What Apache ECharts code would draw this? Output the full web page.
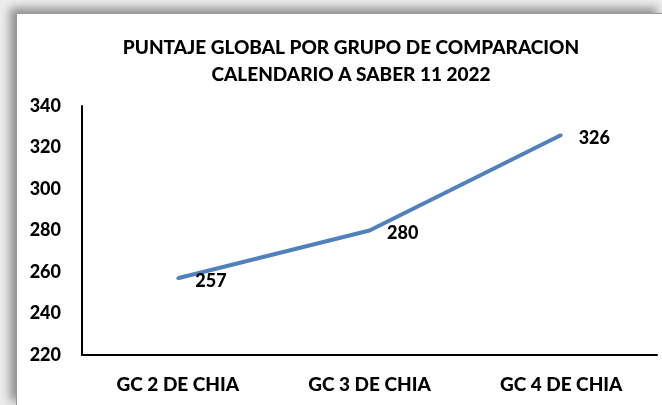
<!DOCTYPE html>
<html>
<head>
<meta charset="utf-8">
<script src="https://cdn.jsdelivr.net/npm/echarts@6/dist/echarts.min.js"></script>
<style>
    html, body { margin: 0; padding: 0; width: 662px; height: 405px; overflow: hidden; background: #ededed; }
    #frame {
        position: absolute; left: 16px; top: 13px; width: 646px; height: 392px;
        background: #fff;
        border-left: 1px solid #9a9a9a; border-top: 1px solid #9a9a9a;
        box-shadow: -6px -5px 9px rgba(0, 0, 0, 0.4);
    }
    #chart { position: absolute; left: 0; top: 0; width: 662px; height: 405px; }
</style>
</head>
<body>
<div id="frame"></div>
<div id="chart"></div>
<script>
const categories = ['GC 2 DE CHIA', 'GC 3 DE CHIA', 'GC 4 DE CHIA'];
const puntaje = [257, 280, 326];
const titleLines = ['PUNTAJE GLOBAL POR GRUPO DE COMPARACION', 'CALENDARIO A SABER 11 2022'];

const font = 'Lato, "Open Sans", sans-serif';
const weight = 900;

const chart = echarts.init(document.getElementById('chart'), null, { renderer: 'canvas' });

chart.setOption({
    backgroundColor: 'transparent',
    animation: false,
    title: {
        text: titleLines.join('\n'),
        left: 346,
        textAlign: 'center',
        top: 29,
        textStyle: {
            color: '#000',
            fontFamily: font,
            fontWeight: weight,
            fontSize: 19,
            lineHeight: 27
        }
    },
    grid: {
        left: 82,
        right: 5,
        top: 106,
        bottom: 50
    },
    xAxis: {
        type: 'category',
        data: categories,
        boundaryGap: true,
        axisLine: { lineStyle: { color: '#000', width: 2 } },
        axisTick: { show: false },
        axisLabel: {
            color: '#000',
            fontFamily: font,
            fontWeight: weight,
            fontSize: 19,
            margin: 20
        },
        splitLine: { show: false }
    },
    yAxis: {
        type: 'value',
        min: 220,
        max: 340,
        interval: 20,
        axisLine: { show: true, lineStyle: { color: '#000', width: 2 } },
        axisTick: { show: false },
        axisLabel: {
            color: '#000',
            fontFamily: font,
            fontWeight: weight,
            fontSize: 18,
            margin: 21
        },
        splitLine: { show: false }
    },
    series: [
        {
            type: 'line',
            data: puntaje,
            symbol: 'circle',
            symbolSize: 3,
            showSymbol: true,
            itemStyle: { color: '#4f81bd' },
            lineStyle: { color: '#4f81bd', width: 4 },
            label: {
                show: true,
                position: 'right',
                distance: 16,
                offset: [0, 3],
                color: '#000',
                fontFamily: font,
                fontWeight: weight,
                fontSize: 18
            }
        }
    ]
});

window.addEventListener('resize', () => {
    chart.resize();
});
</script>
</body>
</html>
